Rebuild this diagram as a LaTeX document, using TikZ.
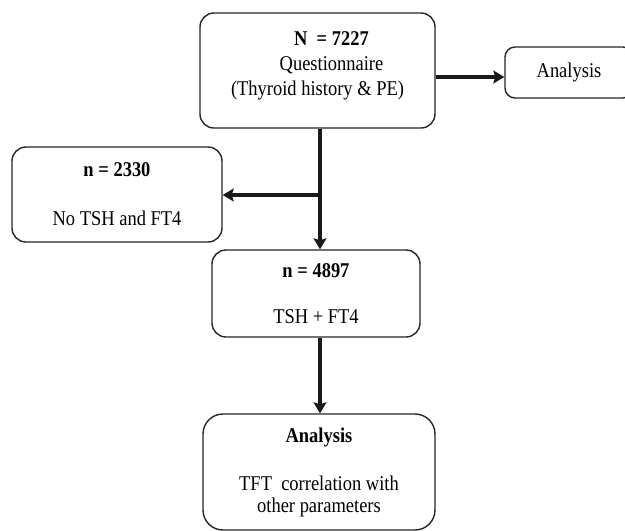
\documentclass[tikz,border=0pt]{standalone}
\usepackage{fontspec}
\setmainfont{Liberation Serif}[FakeStretch=0.88]
\usetikzlibrary{arrows.meta}

\begin{document}
\begin{tikzpicture}[x=1pt, y=-1pt, align=center, font=\fontsize{21}{25}\selectfont]
\tikzstyle{box} = [draw=black!85, line width=1.4pt, rounded corners=14pt, inner sep=0pt]
\tikzstyle{e} = [draw=black!90, line width=4pt, -{Stealth[length=11pt, width=13pt, inset=2pt]}]

\useasboundingbox[fill=white] (0,0) rectangle (625,531);

\node[box, minimum width=235pt, minimum height=115pt, text depth=13pt] (total) at (317.5, 70.5)
  {\hspace*{28pt}\textbf{N\ \ = 7227}\\\hspace*{28pt}Questionnaire\\(Thyroid history \& PE)};
\node[box, rounded corners=10pt, minimum width=128pt, minimum height=51pt] (quest) at (569, 72.5) {Analysis};
\node[box, minimum width=210pt, minimum height=95pt] (none) at (117, 194.5)
  {\textbf{n = 2330}\\[24pt]No TSH and FT4};
\node[box, minimum width=208pt, minimum height=87pt] (tft) at (316, 293.5)
  {\textbf{n = 4897}\\[21pt]TSH + FT4};
\node[box, rounded corners=20pt, minimum width=232pt, minimum height=116pt] (corr) at (319, 472)
  {\textbf{Analysis}\\[23pt]TFT\ \ correlation with\\[-3pt]other parameters};

\coordinate (split) at (320, 195);

\draw[e] (total.east |- 0,77) to (quest.west |- 0,77);
\draw[e] (total.south -| split) to (tft.north -| split);
\draw[e] (split) to (none.east |- split);
\draw[e] (tft.south -| split) to (corr.north -| split);
\end{tikzpicture}
\end{document}
